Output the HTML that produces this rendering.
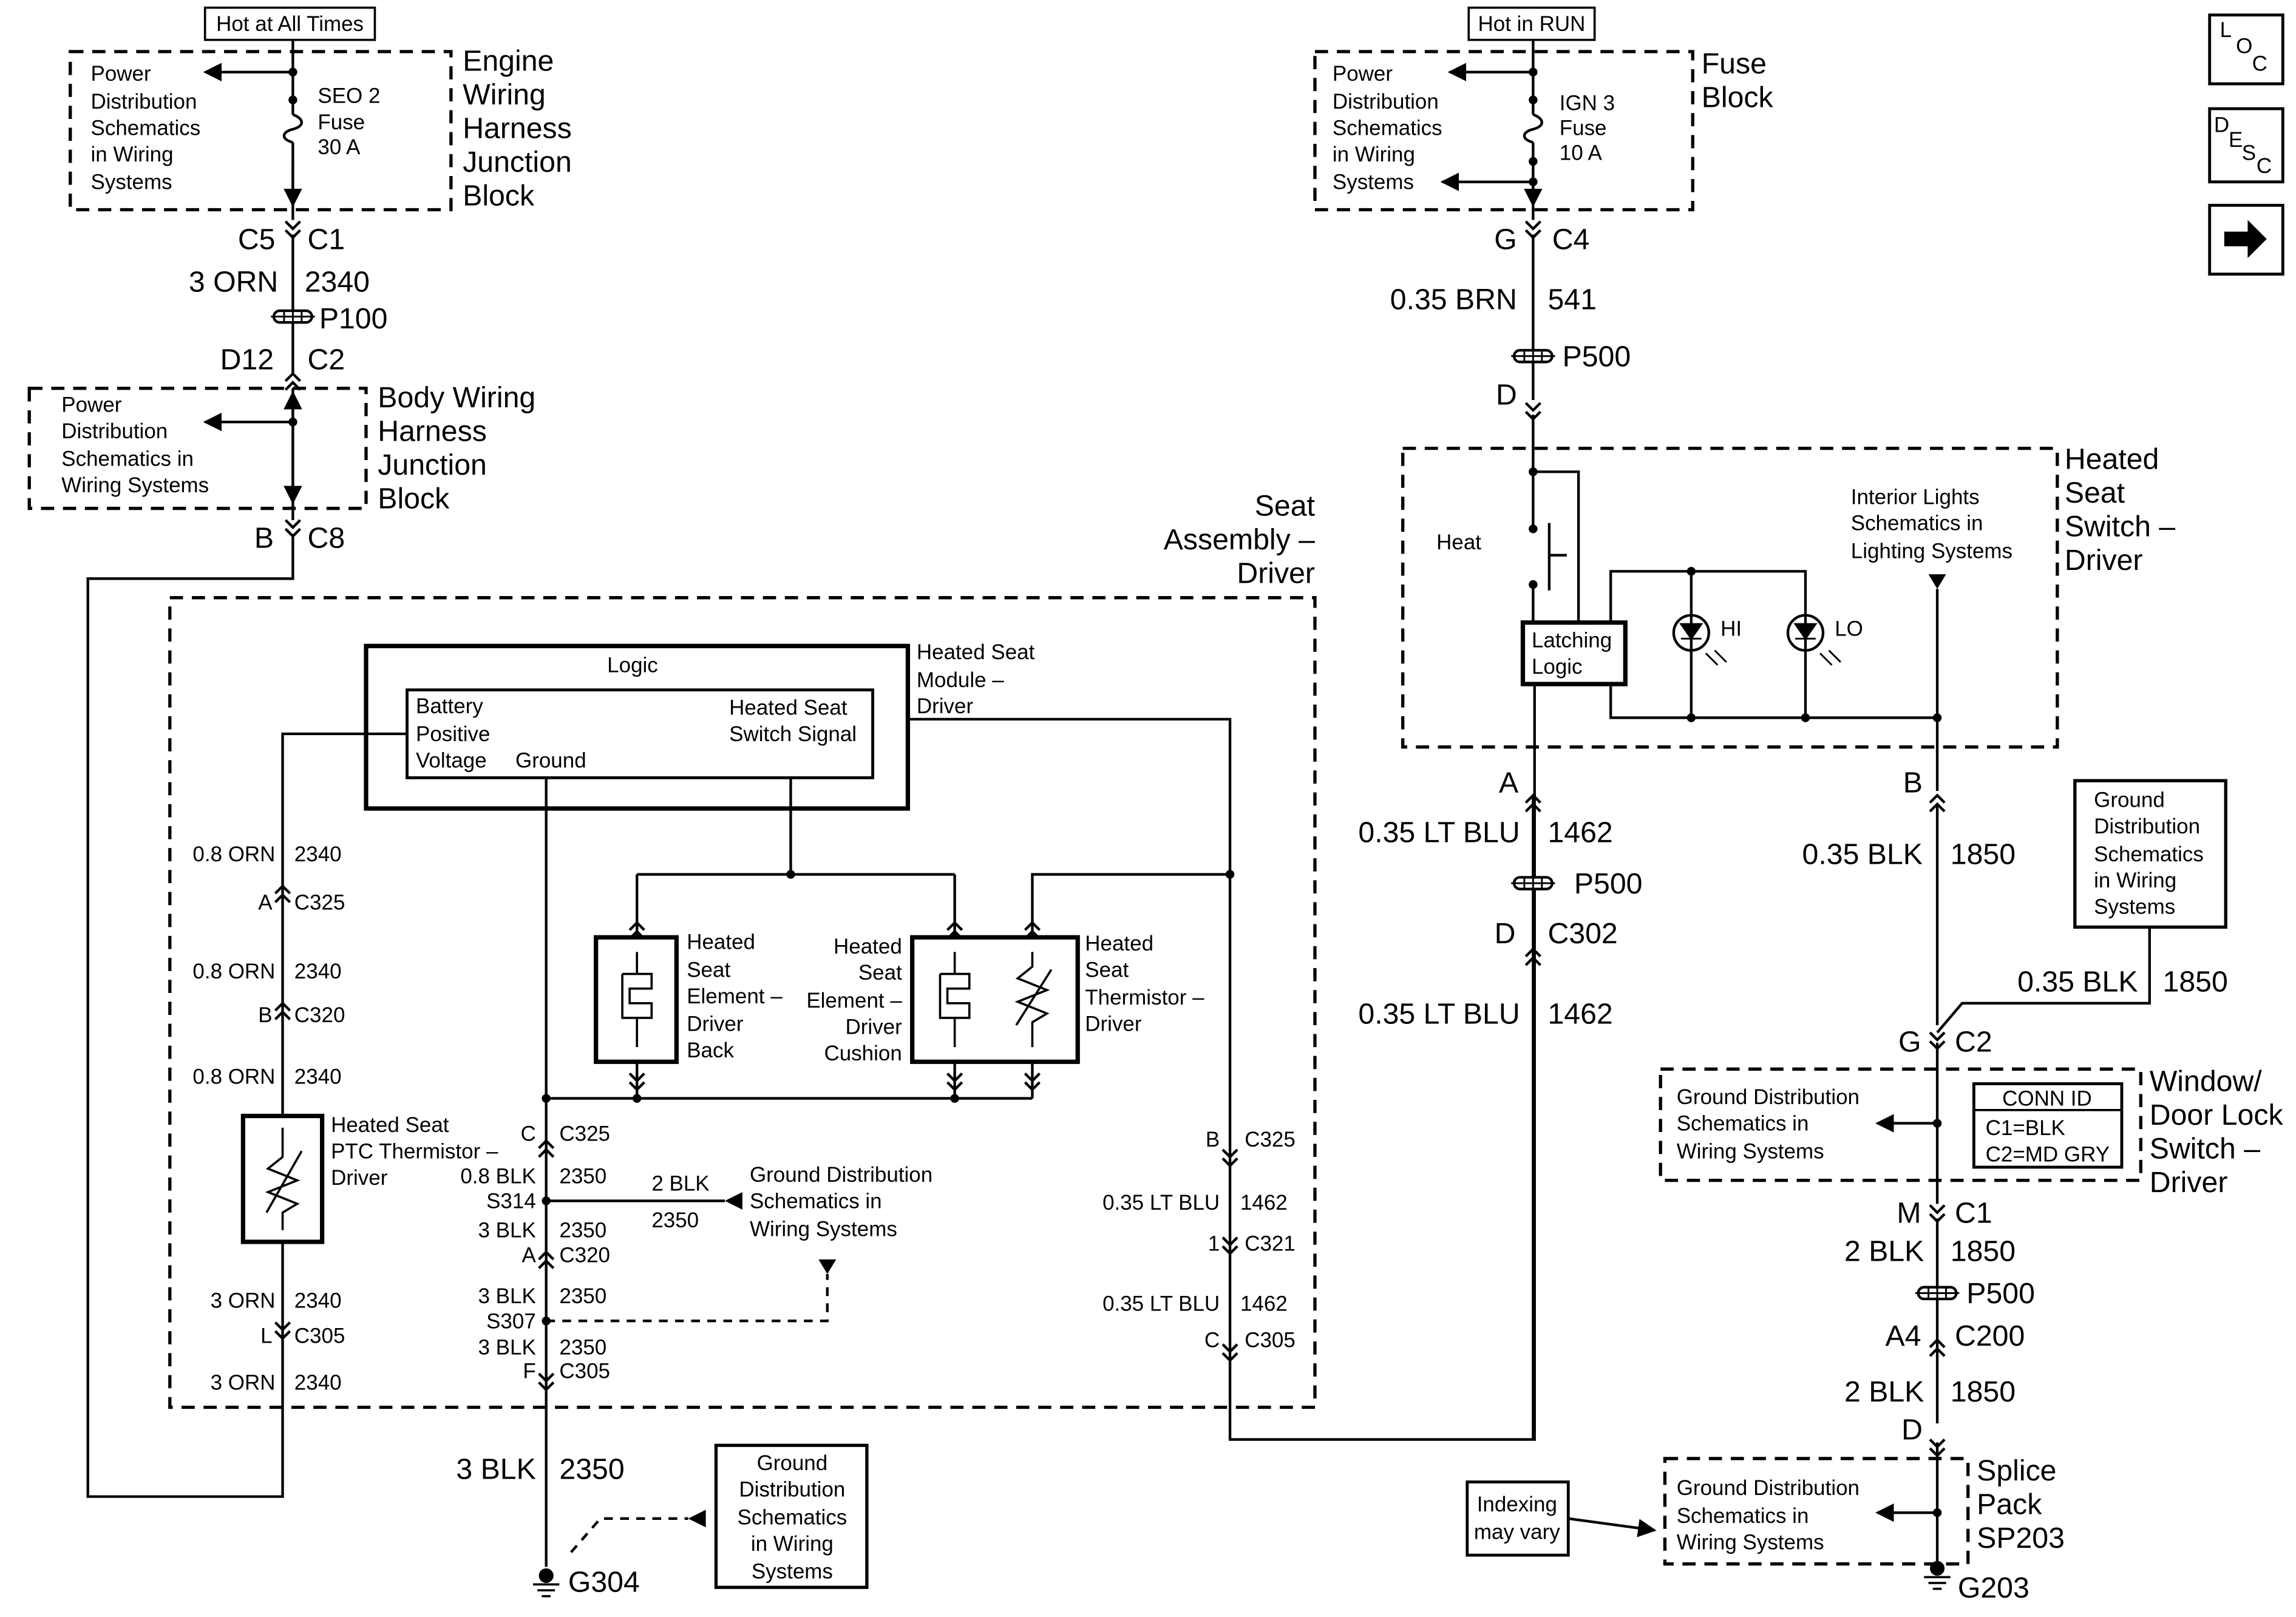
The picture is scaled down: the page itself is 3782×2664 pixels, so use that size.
<!DOCTYPE html>
<html><head><meta charset="utf-8"><style>
html,body{margin:0;padding:0;background:#fff;}
svg{display:block;}
text{font-family:"Liberation Sans",Arial,sans-serif;fill:#000;}
.s{font-size:14.5px;}
.l{font-size:20px;}
.r{text-anchor:end;}
.m{text-anchor:middle;}
</style></head><body>
<svg width="3782" height="2664" viewBox="0 0 1568 1104" xmlns="http://www.w3.org/2000/svg">
<defs>
<marker id="ar" viewBox="0 0 10 10" refX="9" refY="5" markerWidth="7" markerHeight="7" orient="auto"><path d="M0,0 L10,5 L0,10 z" fill="#000"/></marker>
<g id="ch"><path d="M-5,-7 L0,-2 L5,-7 M-5,-1 L0,4 L5,-1" fill="none" stroke="#000" stroke-width="1.8"/></g>
<g id="chu"><path d="M-5,-2 L0,-7 L5,-2 M-5,4 L0,-1 L5,4" fill="none" stroke="#000" stroke-width="1.8"/></g>
<g id="pp"><rect x="-13" y="-4" width="26" height="8" rx="4" fill="#fff" stroke="#000" stroke-width="1.8"/><path d="M-6,-4 V4 M0,-4 V4 M6,-4 V4" stroke="#000" stroke-width="1.2"/><path d="M-15,0 H15" stroke="#000" stroke-width="1.2"/></g>
<g id="gnd"><circle cx="0" cy="-4" r="5" fill="#000"/><path d="M-9,2 H9 M-6,6 H6 M-3,10 H3" stroke="#000" stroke-width="1.5"/></g>
</defs>
<g fill="none" stroke="#000" stroke-width="1.8">
<rect x="140" y="5" width="116" height="22" stroke-width="1.5"/>
<rect x="48" y="35" width="260" height="108" stroke-dasharray="9,6" stroke-width="2.2"/>
<path d="M200,27 V78 M200,97 V150"/>
<path d="M200,78 c8,3 8,8 0,10 c-8,2 -8,7 0,9"/>
<path d="M200,49 H140" marker-end="url(#ar)"/>
<path d="M200,110 V140" marker-end="url(#ar)"/>
<path d="M200,160 V255 M200,265 V355"/>
<rect x="20" y="265" width="230" height="82" stroke-dasharray="9,6" stroke-width="2.2"/>
<path d="M200,288 H140" marker-end="url(#ar)"/>
<path d="M200,300 V268" marker-end="url(#ar)"/>
<path d="M200,300 V343" marker-end="url(#ar)"/>
<path d="M200,365 V395 H60 V1022 H193 V848"/>
<rect x="116" y="408" width="782" height="553" stroke-dasharray="9,6" stroke-width="2.2"/>
<rect x="250" y="441" width="370" height="111" stroke-width="3"/>
<rect x="278" y="471" width="318" height="60" stroke-width="2"/>
<path d="M278,501 H193 V762"/>
<rect x="166" y="762" width="54" height="86" stroke-width="3"/>
<path d="M193,770 V790 L183,798 L203,806 L183,814 L203,822 L193,828 V840 M182,828 L206,786" stroke-width="1.5"/>
<path d="M373,531 V1070"/>
<path d="M540,531 V597 M435,597 H652 M435,597 V640 M652,597 V640"/>
<path d="M620,491 H840 V983 H1048 V467 M840,597 H705 V640"/>
<rect x="407" y="640" width="55" height="85" stroke-width="3"/>
<rect x="623" y="640" width="113" height="85" stroke-width="3"/>
<path d="M435,725 V750 M652,725 V750 M705,725 V750 M373,750 H705"/>
<path d="M435,650 V665 M425,665 H445 V675 H430 V685 H445 V695 H425 V665 M435,695 V715" stroke-width="1.5"/>
<path d="M652,650 V665 M642,665 H662 V675 H647 V685 H662 V695 H642 V665 M652,695 V715" stroke-width="1.5"/>
<path d="M705,650 V660 L695,668 L715,676 L695,684 L715,692 L705,698 V715 M694,700 L718,662" stroke-width="1.5"/>
<path d="M373,820 H495"/>
<path d="M373,902 H565 V870" stroke-dasharray="6,5"/>
<path d="M390,1060 L410,1037 H470" stroke-dasharray="6,5"/>
<rect x="489" y="987" width="103" height="97" stroke-width="2.2"/>
<rect x="1003" y="5" width="86" height="22" stroke-width="1.5"/>
<rect x="898" y="35" width="258" height="108" stroke-dasharray="9,6" stroke-width="2.2"/>
<path d="M1047,27 V78 M1047,97 V150"/>
<path d="M1047,78 c8,3 8,8 0,10 c-8,2 -8,7 0,9"/>
<path d="M1047,49 H990" marker-end="url(#ar)"/>
<path d="M1047,124 H985" marker-end="url(#ar)"/>
<path d="M1047,110 V140" marker-end="url(#ar)"/>
<path d="M1047,160 V273 M1047,283 V361 M1047,399 V425"/>
<rect x="958" y="306" width="447" height="204" stroke-dasharray="9,6" stroke-width="2.2"/>
<path d="M1047,322 H1078 V425"/>
<path d="M1058,357 V403 M1058,379 H1070"/>
<rect x="1040" y="425" width="70" height="42" stroke-width="3"/>
<path d="M1100,425 V390 H1233 V490 M1100,467 V490 H1323 M1155,390 V490"/>
<circle cx="1155" cy="432" r="12"/><circle cx="1233" cy="432" r="12"/>
<path d="M1148,426 H1162 L1155,436 Z M1148,436 H1162 M1226,426 H1240 L1233,436 Z M1226,436 H1240" fill="#000" stroke-width="1.2"/>
<path d="M1165,446 l8,8 M1171,444 l8,8 M1243,446 l8,8 M1249,444 l8,8" stroke-width="1.2"/>
<path d="M1323,402 V540 M1323,550 V700 M1323,712 V822 M1323,832 V972 M1323,985 V1070"/>
<path d="M1047,543 V983"/>
<rect x="1417" y="533" width="103" height="100" stroke-width="2.2"/>
<path d="M1468,633 V685 H1340 L1323,705"/>
<rect x="1134" y="730" width="328" height="76" stroke-dasharray="9,6" stroke-width="2.2"/>
<rect x="1348" y="740" width="101" height="57" stroke-width="2"/>
<path d="M1348,758 H1449" stroke-width="1.5"/>
<path d="M1323,767 H1282" marker-end="url(#ar)"/>
<rect x="1137" y="996" width="207" height="72" stroke-dasharray="9,6" stroke-width="2.2"/>
<path d="M1323,1033 H1282" marker-end="url(#ar)"/>
<rect x="1002" y="1012" width="69" height="50" stroke-width="2"/>
<path d="M1071,1037 L1130,1045" marker-end="url(#ar)"/>
<rect x="1509" y="10" width="50" height="47" stroke-width="2"/>
<rect x="1509" y="74" width="50" height="50" stroke-width="2"/>
<rect x="1509" y="140" width="50" height="47" stroke-width="2"/>
</g>
<g fill="#000">
<circle cx="200" cy="49" r="3"/><circle cx="200" cy="68" r="3"/><circle cx="200" cy="288" r="3"/>
<circle cx="1047" cy="49" r="3"/><circle cx="1047" cy="68" r="3"/><circle cx="1047" cy="110" r="3"/><circle cx="1047" cy="124" r="3"/>
<circle cx="540" cy="597" r="3"/><circle cx="840" cy="597" r="3"/>
<circle cx="373" cy="750" r="3"/><circle cx="435" cy="750" r="3"/><circle cx="652" cy="750" r="3"/>
<circle cx="373" cy="820" r="3"/><circle cx="373" cy="902" r="3"/>
<circle cx="1047" cy="322" r="3"/><circle cx="1047" cy="361" r="3"/><circle cx="1047" cy="399" r="3"/>
<circle cx="1155" cy="390" r="3"/><circle cx="1155" cy="490" r="3"/><circle cx="1233" cy="490" r="3"/><circle cx="1323" cy="490" r="3"/>
<circle cx="1323" cy="767" r="3"/><circle cx="1323" cy="1033" r="3"/>
<path d="M507,814 L495,820 L507,826 Z"/>
<path d="M559,860 H571 L565,870 Z"/>
<path d="M482,1031 L470,1037 L482,1043 Z"/>
<path d="M1317,392 H1329 L1323,402 Z"/>
<path d="M1519,158 H1535 V150 L1548,163 L1535,176 V168 H1519 Z"/>
</g>
<use href="#ch" x="200" y="158"/><use href="#chu" x="200" y="262"/><use href="#ch" x="200" y="362"/>
<use href="#pp" x="200" y="216"/>
<use href="#ch" x="1047" y="158"/><use href="#ch" x="1047" y="282"/><use href="#pp" x="1047" y="243"/>
<use href="#chu" x="1047" y="550"/><use href="#pp" x="1047" y="603"/><use href="#chu" x="1047" y="655"/>
<use href="#chu" x="1323" y="550"/><use href="#ch" x="1323" y="712"/><use href="#ch" x="1323" y="830"/>
<use href="#pp" x="1323" y="883"/><use href="#chu" x="1323" y="922"/><use href="#ch" x="1323" y="990"/>
<use href="#chu" x="193" y="612"/><use href="#chu" x="193" y="692"/><use href="#ch" x="193" y="910"/>
<use href="#chu" x="373" y="786"/><use href="#chu" x="373" y="862"/><use href="#ch" x="373" y="945"/>
<use href="#ch" x="840" y="792"/><use href="#ch" x="840" y="852"/><use href="#ch" x="840" y="925"/>
<use href="#chu" x="435" y="637"/><use href="#chu" x="652" y="637"/><use href="#chu" x="705" y="637"/>
<use href="#ch" x="435" y="740"/><use href="#ch" x="652" y="740"/><use href="#ch" x="705" y="740"/>
<use href="#gnd" x="373" y="1080"/><use href="#gnd" x="1323" y="1075"/>
<g class="s">
<text x="198" y="21" class="m">Hot at All Times</text>
<text x="62" y="55">Power</text><text x="62" y="74">Distribution</text><text x="62" y="92">Schematics</text><text x="62" y="110">in Wiring</text><text x="62" y="129">Systems</text>
<text x="217" y="70">SEO 2</text><text x="217" y="88">Fuse</text><text x="217" y="105">30 A</text>
<text x="42" y="281">Power</text><text x="42" y="299">Distribution</text><text x="42" y="318">Schematics in</text><text x="42" y="336">Wiring Systems</text>
<text x="432" y="459" class="m">Logic</text>
<text x="284" y="487">Battery</text><text x="284" y="506">Positive</text><text x="284" y="524">Voltage</text><text x="352" y="524">Ground</text>
<text x="498" y="488">Heated Seat</text><text x="498" y="506">Switch Signal</text>
<text x="626" y="450">Heated Seat</text><text x="626" y="469">Module –</text><text x="626" y="487">Driver</text>
<text x="469" y="648">Heated</text><text x="469" y="667">Seat</text><text x="469" y="685">Element –</text><text x="469" y="704">Driver</text><text x="469" y="722">Back</text>
<text x="616" y="651" class="r">Heated</text><text x="616" y="669" class="r">Seat</text><text x="616" y="688" class="r">Element –</text><text x="616" y="706" class="r">Driver</text><text x="616" y="724" class="r">Cushion</text>
<text x="741" y="649">Heated</text><text x="741" y="667">Seat</text><text x="741" y="686">Thermistor –</text><text x="741" y="704">Driver</text>
<text x="188" y="588" class="r">0.8 ORN</text><text x="201" y="588">2340</text>
<text x="186" y="621" class="r">A</text><text x="201" y="621">C325</text>
<text x="188" y="668" class="r">0.8 ORN</text><text x="201" y="668">2340</text>
<text x="186" y="698" class="r">B</text><text x="201" y="698">C320</text>
<text x="188" y="740" class="r">0.8 ORN</text><text x="201" y="740">2340</text>
<text x="226" y="773">Heated Seat</text><text x="226" y="791">PTC Thermistor –</text><text x="226" y="809">Driver</text>
<text x="188" y="893" class="r">3 ORN</text><text x="201" y="893">2340</text>
<text x="186" y="917" class="r">L</text><text x="201" y="917">C305</text>
<text x="188" y="949" class="r">3 ORN</text><text x="201" y="949">2340</text>
<text x="366" y="779" class="r">C</text><text x="382" y="779">C325</text>
<text x="366" y="808" class="r">0.8 BLK</text><text x="382" y="808">2350</text>
<text x="366" y="825" class="r">S314</text>
<text x="445" y="813">2 BLK</text><text x="445" y="838">2350</text>
<text x="512" y="807">Ground Distribution</text><text x="512" y="825">Schematics in</text><text x="512" y="844">Wiring Systems</text>
<text x="366" y="845" class="r">3 BLK</text><text x="382" y="845">2350</text>
<text x="366" y="862" class="r">A</text><text x="382" y="862">C320</text>
<text x="366" y="890" class="r">3 BLK</text><text x="382" y="890">2350</text>
<text x="366" y="907" class="r">S307</text>
<text x="366" y="925" class="r">3 BLK</text><text x="382" y="925">2350</text>
<text x="366" y="941" class="r">F</text><text x="382" y="941">C305</text>
<text x="833" y="783" class="r">B</text><text x="850" y="783">C325</text>
<text x="833" y="826" class="r">0.35 LT BLU</text><text x="847" y="826">1462</text>
<text x="833" y="854" class="r">1</text><text x="850" y="854">C321</text>
<text x="833" y="895" class="r">0.35 LT BLU</text><text x="847" y="895">1462</text>
<text x="833" y="920" class="r">C</text><text x="850" y="920">C305</text>
<text x="541" y="1004" class="m">Ground</text><text x="541" y="1022" class="m">Distribution</text><text x="541" y="1041" class="m">Schematics</text><text x="541" y="1059" class="m">in Wiring</text><text x="541" y="1078" class="m">Systems</text>
<text x="1046" y="21" class="m">Hot in RUN</text>
<text x="910" y="55">Power</text><text x="910" y="74">Distribution</text><text x="910" y="92">Schematics</text><text x="910" y="110">in Wiring</text><text x="910" y="129">Systems</text>
<text x="1065" y="75">IGN 3</text><text x="1065" y="92">Fuse</text><text x="1065" y="109">10 A</text>
<text x="981" y="375">Heat</text>
<text x="1046" y="442">Latching</text><text x="1046" y="460">Logic</text>
<text x="1175" y="434">HI</text><text x="1253" y="434">LO</text>
<text x="1264" y="344">Interior Lights</text><text x="1264" y="362">Schematics in</text><text x="1264" y="381">Lighting Systems</text>
<text x="1430" y="551">Ground</text><text x="1430" y="569">Distribution</text><text x="1430" y="588">Schematics</text><text x="1430" y="606">in Wiring</text><text x="1430" y="624">Systems</text>
<text x="1398" y="755" class="m">CONN ID</text><text x="1356" y="775">C1=BLK</text><text x="1356" y="793">C2=MD GRY</text>
<text x="1145" y="754">Ground Distribution</text><text x="1145" y="772">Schematics in</text><text x="1145" y="791">Wiring Systems</text>
<text x="1145" y="1021">Ground Distribution</text><text x="1145" y="1040">Schematics in</text><text x="1145" y="1058">Wiring Systems</text>
<text x="1036" y="1032" class="m">Indexing</text><text x="1036" y="1051" class="m">may vary</text>
<text x="1516" y="25">L</text><text x="1527" y="36">O</text><text x="1538" y="48">C</text>
<text x="1512" y="90">D</text><text x="1522" y="100">E</text><text x="1531" y="109">S</text><text x="1541" y="118">C</text>
</g>
<g class="l">
<text x="316" y="48">Engine</text><text x="316" y="71">Wiring</text><text x="316" y="94">Harness</text><text x="316" y="117">Junction</text><text x="316" y="140">Block</text>
<text x="188" y="170" class="r">C5</text><text x="210" y="170">C1</text>
<text x="190" y="199" class="r">3 ORN</text><text x="208" y="199">2340</text>
<text x="218" y="224">P100</text>
<text x="187" y="252" class="r">D12</text><text x="210" y="252">C2</text>
<text x="258" y="278">Body Wiring</text><text x="258" y="301">Harness</text><text x="258" y="324">Junction</text><text x="258" y="347">Block</text>
<text x="187" y="374" class="r">B</text><text x="210" y="374">C8</text>
<text x="898" y="352" class="r">Seat</text><text x="898" y="375" class="r">Assembly –</text><text x="898" y="398" class="r">Driver</text>
<text x="366" y="1010" class="r">3 BLK</text><text x="382" y="1010">2350</text>
<text x="388" y="1087">G304</text>
<text x="1162" y="50">Fuse</text><text x="1162" y="73">Block</text>
<text x="1036" y="170" class="r">G</text><text x="1060" y="170">C4</text>
<text x="1036" y="211" class="r">0.35 BRN</text><text x="1057" y="211">541</text>
<text x="1067" y="250">P500</text>
<text x="1036" y="276" class="r">D</text>
<text x="1410" y="320">Heated</text><text x="1410" y="343">Seat</text><text x="1410" y="366">Switch –</text><text x="1410" y="389">Driver</text>
<text x="1037" y="541" class="r">A</text>
<text x="1038" y="575" class="r">0.35 LT BLU</text><text x="1057" y="575">1462</text>
<text x="1075" y="610">P500</text>
<text x="1035" y="644" class="r">D</text><text x="1057" y="644">C302</text>
<text x="1038" y="699" class="r">0.35 LT BLU</text><text x="1057" y="699">1462</text>
<text x="1313" y="541" class="r">B</text>
<text x="1313" y="590" class="r">0.35 BLK</text><text x="1332" y="590">1850</text>
<text x="1460" y="677" class="r">0.35 BLK</text><text x="1477" y="677">1850</text>
<text x="1312" y="718" class="r">G</text><text x="1335" y="718">C2</text>
<text x="1468" y="745">Window/</text><text x="1468" y="768">Door Lock</text><text x="1468" y="791">Switch –</text><text x="1468" y="814">Driver</text>
<text x="1312" y="835" class="r">M</text><text x="1335" y="835">C1</text>
<text x="1314" y="861" class="r">2 BLK</text><text x="1332" y="861">1850</text>
<text x="1343" y="890">P500</text>
<text x="1312" y="919" class="r">A4</text><text x="1335" y="919">C200</text>
<text x="1314" y="957" class="r">2 BLK</text><text x="1332" y="957">1850</text>
<text x="1313" y="983" class="r">D</text>
<text x="1350" y="1011">Splice</text><text x="1350" y="1034">Pack</text><text x="1350" y="1057">SP203</text>
<text x="1337" y="1091">G203</text>
</g>
</svg>
</body></html>
